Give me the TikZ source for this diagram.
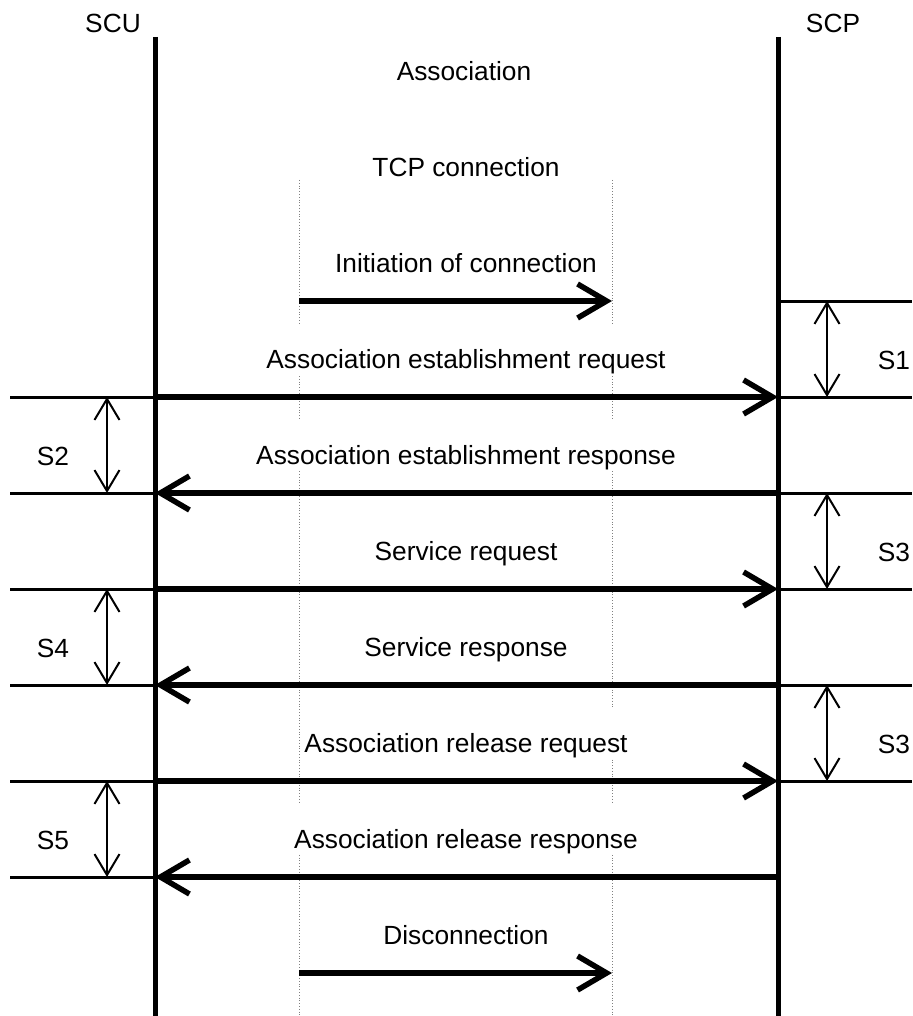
\documentclass[tikz,border=0pt]{standalone}
\usepackage{fontspec}
\setmainfont{Liberation Sans}
\usetikzlibrary{arrows.meta}

\tikzset{
  lbl/.style={font=\fontsize{26.3}{31}\selectfont, inner sep=0pt, anchor=base},
  msglbl/.style={font=\fontsize{26.3}{31}\selectfont, fill=white, inner xsep=4pt, inner ysep=0pt,
    text height=45pt, text depth=5pt, anchor=south},
  msg/.style={line width=5.5pt, -{Straight Barb[length=29pt,width=34pt]}},
  lifeline/.style={line width=5pt},
  bound/.style={line width=3pt},
  gap/.style={line width=2pt, {Straight Barb[length=21pt,width=25pt]}-{Straight Barb[length=21pt,width=25pt]}},
  tcpline/.style={gray, line width=0.8pt, dotted}
}

\begin{document}
\begin{tikzpicture}[x=1pt,y=-1pt]

\useasboundingbox (0,0) rectangle (912,1016);

\foreach \i/\y in {0/301,1/397,2/493,3/589,4/685,5/781,6/877,7/973} {
  \coordinate (u\i) at (155,\y);
  \coordinate (p\i) at (778,\y);
}
\coordinate (lft) at (10,0);
\coordinate (rgt) at (912,0);
\coordinate (gl) at (107,0);
\coordinate (gr) at (827,0);
\coordinate (tcpl) at (299,180);
\coordinate (tcpr) at (612,180);

\node[lbl] (scu) at (113,33) {SCU};
\node[lbl] (scp) at (833,33) {SCP};
\node[lbl] (assoc) at (464,81) {Association};
\node[lbl] (tcp) at (466,177) {TCP connection};

\draw[tcpline] (tcpl) -- (tcpl |- 0,1016);
\draw[tcpline] (tcpr) -- (tcpr |- 0,1016);

\node[msglbl] (m0) at ([yshift=23pt]u0 -| 466,0) {Initiation of connection};
\node[msglbl] (m1) at ([yshift=23pt]u1 -| 466,0) {Association establishment request};
\node[msglbl] (m2) at ([yshift=23pt]u2 -| 466,0) {Association establishment response};
\node[msglbl] (m3) at ([yshift=23pt]u3 -| 466,0) {Service request};
\node[msglbl] (m4) at ([yshift=23pt]u4 -| 466,0) {Service response};
\node[msglbl] (m5) at ([yshift=23pt]u5 -| 466,0) {Association release request};
\node[msglbl] (m6) at ([yshift=23pt]u6 -| 466,0) {Association release response};
\node[msglbl] (m7) at ([yshift=23pt]u7 -| 466,0) {Disconnection};

\foreach \i in {1,...,6}
  \draw[bound] (lft |- u\i) -- (u\i);
\foreach \i in {0,...,5}
  \draw[bound] (p\i) -- (rgt |- p\i);

\draw[gap] (gr |- p0) -- (gr |- p1);
\draw[gap] (gl |- u1) -- (gl |- u2);
\draw[gap] (gr |- p2) -- (gr |- p3);
\draw[gap] (gl |- u3) -- (gl |- u4);
\draw[gap] (gr |- p4) -- (gr |- p5);
\draw[gap] (gl |- u5) -- (gl |- u6);

\node[lbl] (s1) at ([yshift=28pt]p1 -| 894,0) {S1};
\node[lbl] (s2) at ([yshift=28pt]u2 -| 53,0) {S2};
\node[lbl] (s3) at ([yshift=28pt]p3 -| 894,0) {S3};
\node[lbl] (s4) at ([yshift=28pt]u4 -| 53,0) {S4};
\node[lbl] (s3b) at ([yshift=28pt]p5 -| 894,0) {S3};
\node[lbl] (s5) at ([yshift=28pt]u6 -| 53,0) {S5};

\draw[msg] (tcpl |- u0) -- (tcpr |- u0);
\draw[msg] (u1) -- (p1);
\draw[msg] (p2) -- (u2);
\draw[msg] (u3) -- (p3);
\draw[msg] (p4) -- (u4);
\draw[msg] (u5) -- (p5);
\draw[msg] (p6) -- (u6);
\draw[msg] (tcpl |- u7) -- (tcpr |- u7);

\draw[lifeline] (155,37) -- (155,1016);
\draw[lifeline] (778,37) -- (778,1016);

\end{tikzpicture}
\end{document}
